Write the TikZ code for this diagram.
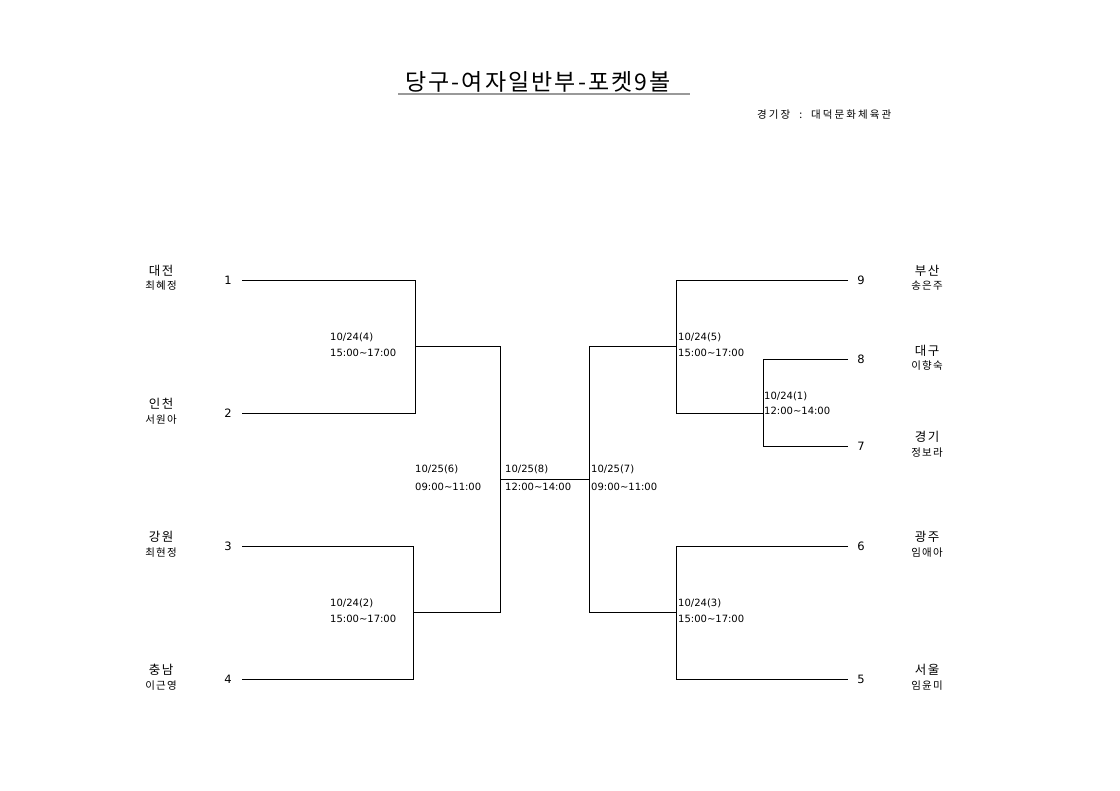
\documentclass[tikz,border=0pt]{standalone}
\usepackage{fontspec}
\setmainfont{Noto Sans CJK KR}
\newfontfamily\latfont{DejaVu Sans}
\newfontfamily\krsp[LetterSpace=12]{Noto Sans CJK KR}
\newfontfamily\krwide[LetterSpace=20]{Noto Sans CJK KR}
\newfontfamily\krtitle[LetterSpace=9]{Noto Sans CJK KR}
\begin{document}
\begin{tikzpicture}[x=1pt,y=-1pt,
  ln/.style={line width=0.8pt,black},
  lbl/.style={anchor=west,inner sep=0,font=\latfont\fontsize{10}{12}\selectfont},
  num/.style={inner sep=0,font=\latfont\fontsize{11.5}{13}\selectfont},
  team/.style={inner sep=0,font=\krsp\fontsize{12.5}{14}\selectfont},
  player/.style={inner sep=0,font=\krsp\fontsize{10.5}{12}\selectfont}]
\useasboundingbox (0,0) rectangle (1120,791);
\fill[white] (0,0) rectangle (1120,791);
% title
\node[inner sep=0,font=\krtitle\fontsize{23}{26}\selectfont] (title) at (538,82) {당구-여자일반부-포켓9볼};
\coordinate (ulA) at (398,94);
\coordinate (ulB) at (690,94);
\draw[line width=1.4pt,gray!80] (ulA) -- (ulB);
\node[inner sep=0,anchor=west,font=\krwide\fontsize{10.5}{12}\selectfont] (venue) at (757,115) {경기장\ \ :\ \ 대덕문화체육관};
% left entrants
\node[team] (t1) at (161,271) {대전}; \node[player] (p1) at (161,286) {최혜정};
\node[team] (t2) at (161,404) {인천}; \node[player] (p2) at (161,420) {서원아};
\node[team] (t3) at (161,537) {강원}; \node[player] (p3) at (161,553) {최현정};
\node[team] (t4) at (161,670) {충남}; \node[player] (p4) at (161,686) {이근영};
\node[num] (n1) at (228,280) {1};
\node[num] (n2) at (228,413) {2};
\node[num] (n3) at (228,546) {3};
\node[num] (n4) at (228,679) {4};
% right entrants
\node[team] (t9) at (927,271) {부산}; \node[player] (p9) at (927,286) {송은주};
\node[team] (t8) at (927,351) {대구}; \node[player] (p8) at (927,366) {이향숙};
\node[team] (t7) at (927,437) {경기}; \node[player] (p7) at (927,453) {정보라};
\node[team] (t6) at (927,537) {광주}; \node[player] (p6) at (927,553) {임애아};
\node[team] (t5) at (927,670) {서울}; \node[player] (p5) at (927,686) {임윤미};
\node[num] (n9) at (861,280) {9};
\node[num] (n8) at (861,359) {8};
\node[num] (n7) at (861,446) {7};
\node[num] (n6) at (861,546) {6};
\node[num] (n5) at (861,679) {5};
% bracket coordinates
\coordinate (a1) at (242,280); \coordinate (a2) at (242,413);
\coordinate (a3) at (242,546); \coordinate (a4) at (242,679);
\coordinate (j4a) at (415,280); \coordinate (j4b) at (415,413); \coordinate (j4) at (415,346);
\coordinate (j2a) at (413,546); \coordinate (j2b) at (413,679); \coordinate (j2) at (413,612);
\coordinate (j6a) at (500,346); \coordinate (j6b) at (500,612); \coordinate (j6) at (500,479);
\coordinate (j7) at (589,479); \coordinate (j7a) at (589,346); \coordinate (j7b) at (589,612);
\coordinate (j5) at (676,346); \coordinate (j5a) at (676,280); \coordinate (j5b) at (676,413);
\coordinate (j1) at (763,413); \coordinate (j1a) at (763,359); \coordinate (j1b) at (763,446);
\coordinate (j3) at (676,612); \coordinate (j3a) at (676,546); \coordinate (j3b) at (676,679);
\coordinate (b9) at (848,280); \coordinate (b8) at (848,359); \coordinate (b7) at (848,446);
\coordinate (b6) at (848,546); \coordinate (b5) at (848,679);
\draw[ln] (a1) -- (j4a) -- (j4b) -- (a2);
\draw[ln] (a3) -- (j2a) -- (j2b) -- (a4);
\draw[ln] (j4) -- (j6a) -- (j6b) -- (j2);
\draw[ln] (j6) -- (j7);
\draw[ln] (j7a) -- (j7b);
\draw[ln] (j7a) -- (j5);
\draw[ln] (j7b) -- (j3);
\draw[ln] (b9) -- (j5a) -- (j5b) -- (j1);
\draw[ln] (b8) -- (j1a) -- (j1b) -- (b7);
\draw[ln] (b6) -- (j3a) -- (j3b) -- (b5);
% match labels
\node[lbl] (m4) at (330,337) {10/24(4)}; \node[lbl] (m4t) at (330,353) {15:00\textasciitilde17:00};
\node[lbl] (m2) at (330,603) {10/24(2)}; \node[lbl] (m2t) at (330,619) {15:00\textasciitilde17:00};
\node[lbl] (m6) at (415,469) {10/25(6)}; \node[lbl] (m6t) at (415,487) {09:00\textasciitilde11:00};
\node[lbl] (m8) at (505,469) {10/25(8)}; \node[lbl] (m8t) at (505,487) {12:00\textasciitilde14:00};
\node[lbl] (m7) at (591,469) {10/25(7)}; \node[lbl] (m7t) at (591,487) {09:00\textasciitilde11:00};
\node[lbl] (m5) at (678,337) {10/24(5)}; \node[lbl] (m5t) at (678,353) {15:00\textasciitilde17:00};
\node[lbl] (m1) at (764,396) {10/24(1)}; \node[lbl] (m1t) at (764,411) {12:00\textasciitilde14:00};
\node[lbl] (m3) at (678,603) {10/24(3)}; \node[lbl] (m3t) at (678,619) {15:00\textasciitilde17:00};
\end{tikzpicture}
\end{document}
